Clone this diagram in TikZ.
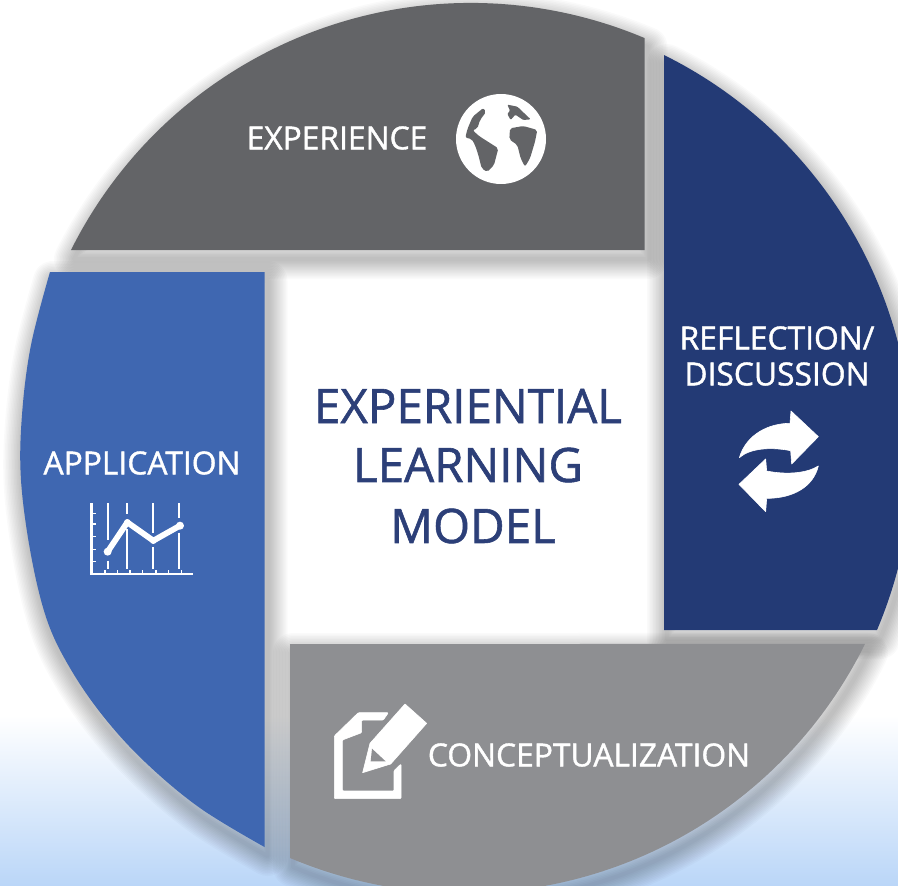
\documentclass[tikz,border=0pt]{standalone}
\usepackage{fontspec}
\setmainfont{Open Sans}[AutoFakeBold=1.2]
\definecolor{cexp}{HTML}{636467}
\definecolor{cref}{HTML}{233A75}
\definecolor{ccon}{HTML}{8E8F92}
\definecolor{capp}{HTML}{3F67B1}
\definecolor{ctitle}{HTML}{2C3F78}
\definecolor{cbg}{HTML}{BAD6F8}
\tikzset{
  x=1pt,y=-1pt,
  seg/.style n args={5}{insert path={plot[domain=#4:#5,samples=90] ({#1+#3*cos(\x)},{#2+#3*sin(\x)})}},
  pexp/.style={seg={470.8}{449.9}{447}{206.56}{292.87},insert path={-- (644.5,250) -- cycle}},
  pref/.style={seg={465.5}{455.5}{447}{-63.63}{22.98},insert path={-- (664,630) -- cycle}},
  pcon/.style={seg={464.1}{446.3}{447}{26.25}{112.92},insert path={-- (290,644) -- cycle}},
  papp/.style={insert path={plot[smooth,tension=.6] coordinates {(264.5,847) (200,808) (145,762) (103,716) (70,668) (47,620) (31,555) (21,480) (22,415) (31,345) (50,272)} -- (264.5,272) -- cycle}},
  wlabel/.style={text=white,font=\fontsize{31.8}{36}\selectfont\bfseries,inner sep=0pt,align=center},
  tlabel/.style={text=ctitle,font=\fontsize{47.5}{52}\selectfont\bfseries,inner sep=0pt},
  iconfill/.style={fill=white,draw=white,line width=.6pt,line join=round},
  chartthin/.style={draw=white,line width=2.1pt},
  charttick/.style={draw=white,line width=1.4pt},
}
\newcommand{\softshadow}[1]{%
  \begin{scope}[shift={(3,9)}]
    \foreach \w in {40,37,34,31,28,25,22,19,16,13,10,7,4}{
      \draw[black,opacity=.019,line width=\w pt,line join=round,#1];
    }
  \end{scope}}
\begin{document}
\begin{tikzpicture}
\useasboundingbox (0,0) rectangle (898,886);
\clip (0,0) rectangle (898,886);
\fill[white] (0,0) rectangle (898,886);
\shade[top color=white,bottom color=cbg] (0,715) rectangle (898,886);

\softshadow{pexp}
\softshadow{pref}
\softshadow{pcon}
\softshadow{papp}

\fill[cexp,pexp];
\fill[cref,pref];
\fill[ccon,pcon];
\fill[capp,papp];

% globe
\begin{scope}[shift={(430,70)},scale=1/3]
  \fill[white] (213,207) circle (135);
  \fill[cexp,rounded corners=2pt]
    (160,114) -- (168,126) -- (150,150) -- (142,176) -- (128,180) -- (140,192) -- (150,200)
    -- (205,235) -- (192,285) -- (172,306) -- (155,295) -- (145,255) -- (135,225) -- (125,207) -- (106,203) -- (112,178) -- (128,140) -- cycle;
  \fill[cexp,rounded corners=2pt]
    (240,175) -- (280,168) -- (322,180) -- (315,215) -- (300,265) -- (285,290) -- (272,265) -- (262,225) -- (238,208) -- cycle;
  \fill[cexp,rounded corners=1pt]
    (232,104) -- (262,110) -- (302,148) -- (280,150) -- (256,134) -- (242,150) -- (232,132) -- (240,122) -- cycle;
\end{scope}

% cycle arrows
\begin{scope}[shift={(700,390)},scale=1/3]
  \fill[iconfill]
    (118,203) .. controls (140,130) and (210,100) .. (270,100) -- (273,63) -- (355,140) -- (275,222) -- (272,182)
    .. controls (210,170) and (150,175) .. (118,203) -- cycle;
  \fill[iconfill]
    (355,228) .. controls (340,290) and (280,325) .. (200,325) -- (197,365) -- (117,283) -- (197,207) -- (200,243)
    .. controls (260,255) and (320,250) .. (355,228) -- cycle;
\end{scope}

% chart
\begin{scope}[shift={(70,490)},scale=1/3]
  \draw[white,line width=2.8pt] (65,40) -- (65,252) -- (370,252);
  \foreach \y in {70,102,140,178,215} \draw[charttick] (65,\y) -- (79,\y);
  \foreach \x in {105,143,180,218,258,295,335} \draw[charttick] (\x,252) -- (\x,240);
  \draw[chartthin] (113,40) -- (113,150) (113,212) -- (113,238);
  \draw[chartthin] (172,40) -- (172,72) (172,118) -- (172,238);
  \draw[chartthin] (250,40) -- (250,128) (250,172) -- (250,238);
  \draw[chartthin] (328,40) -- (328,85) (328,128) -- (328,238);
  \draw[white,line width=5.8pt,line join=round,line cap=round] (113,185) -- (172,97) -- (250,152) -- (330,107);
  \fill[white] (113,185) circle (12) (172,97) circle (10) (250,152) circle (10) (330,107) circle (12);
\end{scope}

% pencil and sheet
\begin{scope}[shift={(320,690)},scale=1/3]
  \fill[iconfill,rounded corners=1pt]
    (205,68) -- (115,68) -- (43,138) -- (43,326) -- (243,326) -- (243,222) -- (222,242) -- (222,303) -- (67,303) -- (67,150) -- (125,128) -- (125,90) -- (190,90) -- cycle;
  \fill[ccon] (135,160) -- (255,25) -- (335,100) -- (215,238) -- (120,262) -- cycle;
  \fill[iconfill]
    (128,248) -- (150,160) -- (255,42) -- (320,100) -- (212,222) -- cycle;
  \fill[ccon] (156,176) -- (197,214) -- (152,214) -- cycle;
\end{scope}

\node[wlabel] (experience) at (337,138) {EXPERIENCE};
\node[wlabel] (reflection) at (777,338) {REFLECTION/};
\node[wlabel] (discussion) at (777,374) {DISCUSSION};
\node[wlabel] (application) at (142,463) {APPLICATION};
\node[wlabel] (conceptualization) at (589,755) {CONCEPTUALIZATION};
\node[tlabel] (t1) at (468,406) {EXPERIENTIAL};
\node[tlabel] (t2) at (468,465) {LEARNING};
\node[tlabel] (t3) at (473,526) {MODEL};
\end{tikzpicture}
\end{document}
